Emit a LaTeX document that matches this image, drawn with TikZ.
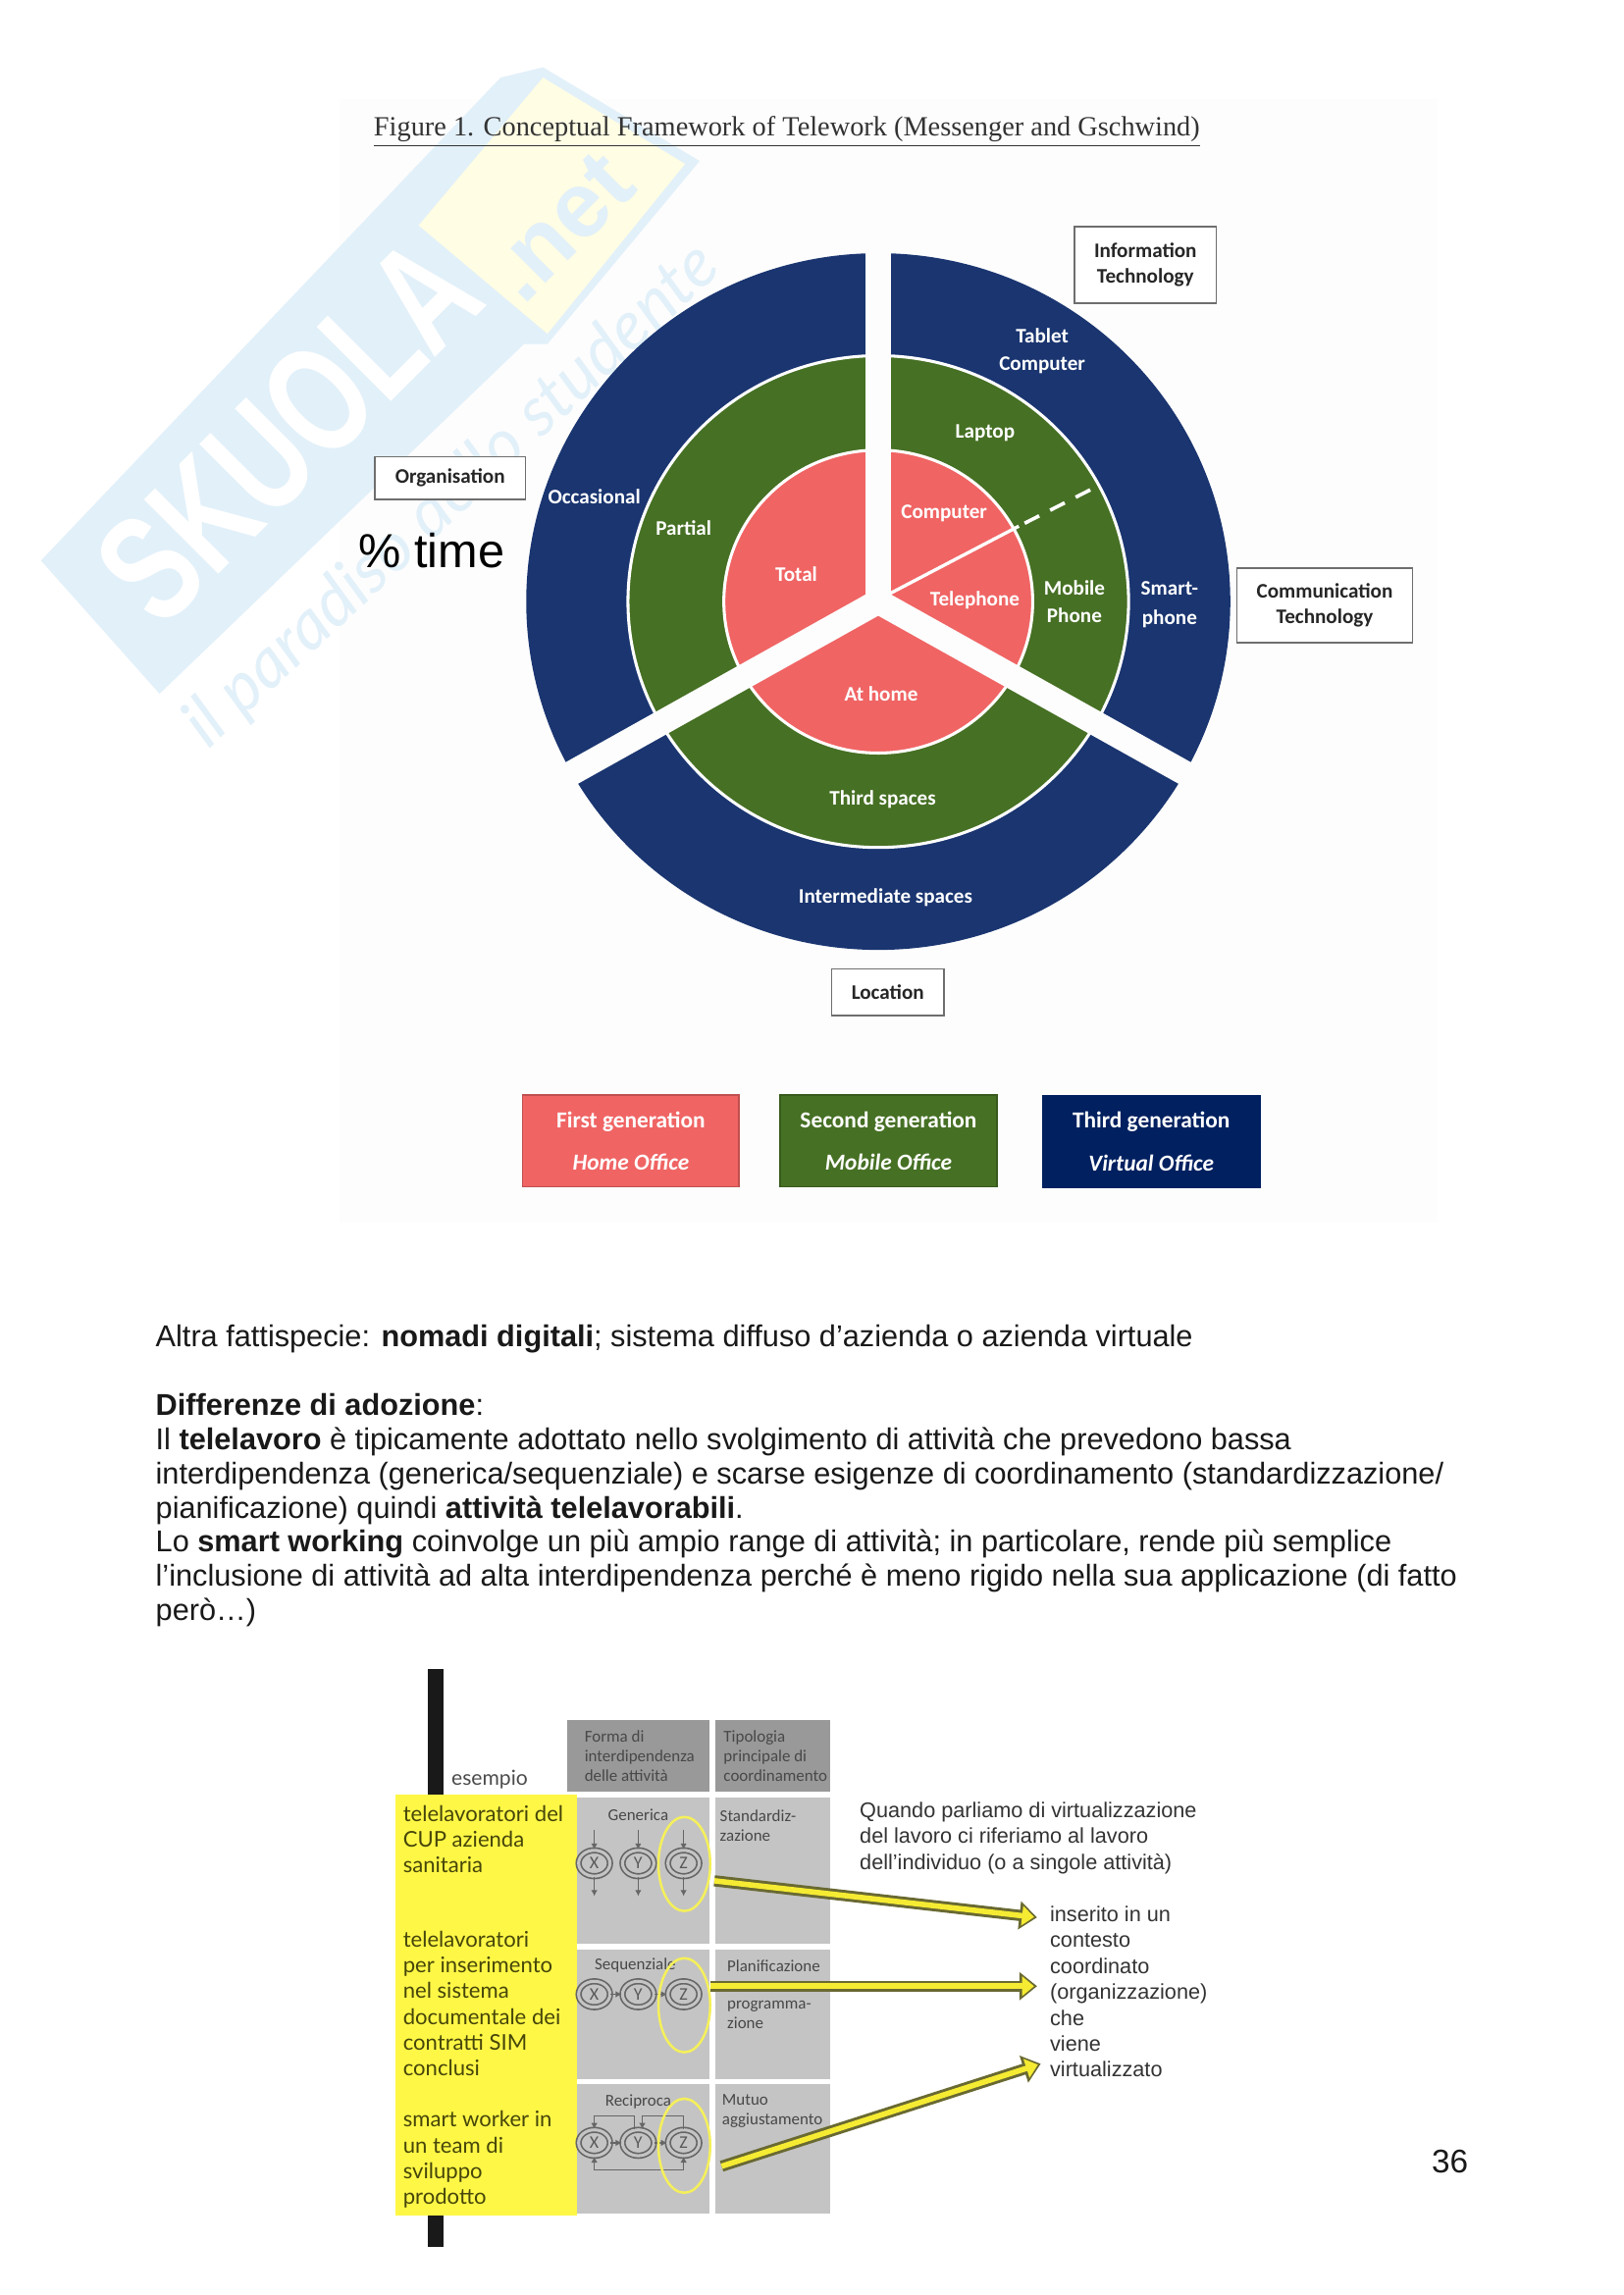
\documentclass[tikz,border=0pt]{standalone}
\usepackage{fontspec}
\usetikzlibrary{arrows.meta,shapes.geometric,calc}
\setmainfont{Liberation Sans}
\newfontfamily\crlf{Carlito}
\newfontfamily\ltof{Lato}
\newfontfamily\tmsf{Liberation Serif}
\definecolor{pagebg}{RGB}{253,253,253}
\definecolor{navy}{RGB}{26,53,112}
\definecolor{leafg}{RGB}{70,112,36}
\definecolor{coral}{RGB}{240,100,100}
\definecolor{navyb}{RGB}{0,32,96}
\definecolor{wmblue}{RGB}{226,240,249}
\definecolor{wmyel}{RGB}{255,253,228}
\definecolor{hdrgray}{RGB}{153,153,153}
\definecolor{bodygray}{RGB}{196,196,196}
\definecolor{tabtext}{RGB}{72,72,72}
\definecolor{hiyel}{RGB}{255,247,70}
\definecolor{olivet}{RGB}{70,70,10}
\definecolor{arrowedge}{RGB}{105,105,50}
\definecolor{arrowfill}{RGB}{245,235,50}
\definecolor{ovalyel}{RGB}{245,240,90}
\definecolor{boxedge}{RGB}{110,110,110}
\tikzset{
  wheeltext/.style={text=white,font=\crlf\bfseries\fontsize{7.6}{10}\selectfont,align=center,inner sep=0pt},
  labelbox/.style={draw=boxedge,line width=0.6pt,fill=white,text=black!85,font=\crlf\bfseries\fontsize{7.6}{9.5}\selectfont,align=center,inner sep=0pt},
  legendbox/.style={line width=0.7pt,text=white,font=\crlf\bfseries\fontsize{8.4}{15.6}\selectfont,align=center,inner sep=0pt,minimum width=79.5pt,minimum height=33.6pt},
  bodytext/.style={font=\fontsize{11.05}{12.5}\selectfont,anchor=north west,align=left,inner sep=0pt,text=black!90},
  hdrcell/.style={fill=hdrgray},
  bodycell/.style={fill=bodygray},
  tabtxt/.style={font=\crlf\fontsize{6.1}{7.2}\selectfont,text=tabtext,align=left,inner sep=0pt,anchor=west},
  yeltxt/.style={font=\ltof\fontsize{7.95}{9.45}\selectfont,text=olivet,align=left,inner sep=0pt,anchor=north west},
  sidetxt/.style={font=\fontsize{7.8}{9.5}\selectfont,text=black!80,align=left,inner sep=0pt,anchor=north west},
  activity/.style={ellipse,draw=black!60,line width=0.6pt,double=bodygray,double distance=1.1pt,inner sep=0pt,minimum width=11.5pt,minimum height=9.5pt,text=black!65,font=\crlf\fontsize{6.5}{7}\selectfont},
  flow/.style={draw=black!60,line width=0.5pt,-{Latex[length=2.2pt,width=2.4pt]}},
  oval/.style={ellipse,draw=ovalyel,line width=0.9pt,inner sep=0pt,minimum width=19pt,minimum height=34.5pt},
}
\newcommand{\fatarrow}[2]{%
  \draw[arrowedge,line width=4.1pt,-{Triangle[length=6.5pt,width=10pt]}] (#1) -- (#2);
  \draw[arrowfill,line width=2pt,shorten >=1.1pt,-{Triangle[length=4.4pt,width=7pt]}] (#1) -- (#2);
}
\begin{document}
\begin{tikzpicture}[x=0.5368pt,y=-0.5368pt]
\useasboundingbox (0,0) rectangle (1109,1568);
\fill[white] (0,0) rectangle (1109,1568);
% figure background
\fill[pagebg] (232,68) rectangle (982,835);
% watermark
\fill[wmblue] (28,383) -- (342,53) -- (371,46) -- (478,110) -- (374,235) -- (358,235) -- (109,474) -- cycle;
\fill[wmyel] (286,154) -- (371,53) -- (468,112) -- (374,228) -- cycle;
\node[rotate=45,text=white,font=\bfseries\fontsize{56}{56}\selectfont,inner sep=0pt] (wmname) at (197,294) {\scalebox{0.72}[1]{SKUOLA}};
\node[rotate=45,text=wmblue,font=\bfseries\fontsize{34}{34}\selectfont,inner sep=0pt] (wmnet) at (383,155) {.net};
\node[rotate=43,text=wmblue,font=\ltof\itshape\fontsize{25}{25}\selectfont,inner sep=0pt] (wmtag) at (309,339) {il paradiso dello studente};
% title
\node[font=\tmsf\fontsize{10.2}{12}\selectfont,text=black!80,inner sep=0pt,anchor=base west] (title) at (255,93) {\underline{Figure 1. Conceptual Framework of Telework (Messenger and Gschwind)}};
% wheel
\coordinate (hub) at (600,411);
\fill[navy] (hub) ellipse [x radius=240.5,y radius=238];
\draw[white,line width=1.1pt,fill=leafg] (hub) ellipse [x radius=171,y radius=168];
\draw[white,line width=1.1pt,fill=coral] (hub) ellipse [x radius=105.5,y radius=103.5];
\coordinate (gapA) at (600,140);
\coordinate (gapB) at (827,538);
\coordinate (gapC) at (373,538);
\foreach \g in {gapA,gapB,gapC}{\draw[pagebg,line width=9.1pt] (hub) -- (\g);}
\fill[pagebg] (591.5,411) -- (600,406) -- (608.5,411) -- (600,421) -- cycle;
% divider
\coordinate (divA) at (608,405.5);
\coordinate (divB) at (696,359.5);
\coordinate (divC) at (751,331.5);
\draw[white,line width=1.2pt] (divA) -- (divB);
\draw[white,line width=1.3pt,dash pattern=on 6pt off 4.5pt] (divB) ++(4,-2) -- (divC);
% wheel labels
\node[wheeltext] (occ) at (406,339) {Occasional};
\node[wheeltext] (par) at (467,361) {Partial};
\node[wheeltext] (tot) at (544,392) {Total};
\node[wheeltext] (com) at (645,351) {Computer};
\node[wheeltext] (tel) at (666,410) {Telephone};
\node[wheeltext] (mob) at (734,411) {Mobile\\Phone};
\node[wheeltext] (sma) at (799,413) {Smart-\\[0.7pt]phone};
\node[wheeltext] (lap) at (673,296) {Laptop};
\node[wheeltext] (tab) at (712,240) {Tablet\\Computer};
\node[wheeltext] (hom) at (602,474) {At home};
\node[wheeltext] (thi) at (603,546) {Third spaces};
\node[wheeltext] (int) at (605,613) {Intermediate spaces};
% label boxes
\node[labelbox,minimum width=52pt,minimum height=27.9pt] (infobox) at (782.5,181) {Information\\Technology};
\node[labelbox,minimum width=64.4pt,minimum height=27.4pt] (commbox) at (905,413.5) {Communication\\Technology};
\node[labelbox,minimum width=55.3pt,minimum height=15.6pt] (orgbox) at (307.5,326.5) {Organisation};
\node[labelbox,minimum width=41.3pt,minimum height=17.2pt] (locbox) at (606.5,678) {Location};
\node[font=\fontsize{17.5}{20}\selectfont,inner sep=0pt] (pct) at (295,376) {\% time};
% legend
\node[legendbox,draw=coral!80!black,fill=coral] (leg1) at (431,779.5) {First generation\\\itshape Home Office};
\node[legendbox,draw=leafg!80!black,fill=leafg] (leg2) at (607,779.5) {Second generation\\\itshape Mobile Office};
\node[legendbox,draw=navyb,fill=navyb] (leg3) at (786.5,780) {Third generation\\\itshape Virtual Office};
% body text
\node[bodytext] (p1) at (106,905) {Altra fattispecie: \textbf{nomadi digitali}; sistema diffuso d’azienda o azienda virtuale};
\node[bodytext] (p2) at (106,952) {\textbf{Differenze di adozione}:\\
Il \textbf{telelavoro} è tipicamente adottato nello svolgimento di attività che prevedono bassa\\
interdipendenza (generica/sequenziale) e scarse esigenze di coordinamento (standardizzazione/\\
pianificazione) quindi \textbf{attività telelavorabili}.\\
Lo \textbf{smart working} coinvolge un più ampio range di attività; in particolare, rende più semplice\\
l’inclusione di attività ad alta interdipendenza perché è meno rigido nella sua applicazione (di fatto\\
però…)};
\node[font=\fontsize{12}{14}\selectfont,inner sep=0pt,text=black!90] (pageno) at (990.5,1477) {36};
% black bar
\fill[black!90] (292,1140) rectangle (303,1535);
\node[font=\ltof\fontsize{7.6}{9}\selectfont,text=black!70,inner sep=0pt] (esem) at (334.5,1216) {esempio};
% table
\fill[hdrcell] (387.5,1175) rectangle (484.5,1224);
\fill[hdrcell] (488.5,1175) rectangle (567,1224);
\fill[bodycell] (388,1228) rectangle (484.5,1328);
\fill[bodycell] (488.5,1228) rectangle (567,1328);
\fill[bodycell] (388,1332) rectangle (484.5,1420.5);
\fill[bodycell] (488.5,1332) rectangle (567,1420.5);
\fill[bodycell] (388,1424) rectangle (484.5,1512.5);
\fill[bodycell] (488.5,1424) rectangle (567,1512.5);
\node[tabtxt] (h1) at (399,1199.5) {Forma di\\interdipendenza\\delle attività};
\node[tabtxt] (h2) at (494,1199.5) {Tipologia\\principale di\\coordinamento};
\node[tabtxt,anchor=center] (r1a) at (436,1240) {Generica};
\node[tabtxt,anchor=center] (r2a) at (434,1343) {Sequenziale};
\node[tabtxt,anchor=center] (r3a) at (436,1436) {Reciproca};
\node[tabtxt] (r1b) at (491.5,1247) {Standardiz-\\zazione};
\node[tabtxt] (r2b) at (496.5,1343) {Planificazione};
\node[tabtxt] (r2c) at (496.5,1376.5) {programma-\\zione};
\node[tabtxt] (r3b) at (493,1442.5) {Mutuo\\aggiustamento};
% yellow column
\fill[hiyel] (270,1226) rectangle (394,1514);
\node[yeltxt] (y1) at (275,1233) {telelavoratori del\\CUP azienda\\sanitaria};
\node[yeltxt] (y2) at (275,1319) {telelavoratori\\per inserimento\\nel sistema\\documentale dei\\contratti SIM\\conclusi};
\node[yeltxt] (y3) at (275,1442) {smart worker in\\un team di\\sviluppo\\prodotto};
% activities row 1
\node[activity] (x1) at (406,1273) {X};
\node[activity] (y1a) at (436,1273) {Y};
\node[activity] (z1) at (467,1273) {Z};
\foreach \n in {x1,y1a,z1}{
  \draw[flow] ([yshift=7pt]\n.north) -- (\n.north);
  \draw[flow] (\n.south) -- ([yshift=-7pt]\n.south);
}
% activities row 2
\node[activity] (x2) at (406,1362.5) {X};
\node[activity] (y2a) at (436,1362.5) {Y};
\node[activity] (z2) at (467,1362.5) {Z};
\draw[flow] (x2) -- (y2a);
\draw[flow] (y2a) -- (z2);
% activities row 3
\node[activity] (x3) at (406,1464) {X};
\node[activity] (y3a) at (436,1464) {Y};
\node[activity] (z3) at (467,1464) {Z};
\draw[flow] (x3) -- (y3a);
\draw[flow] (y3a) -- (z3);
\draw[flow] ([xshift=-1.5pt]y3a.north) -- ++(0,-9) -| (x3.north);
\draw[flow] (z3.north) -- ++(0,-9) -| ([xshift=1.5pt]y3a.north);
\draw[flow,{Latex[length=2.2pt,width=2.4pt]}-{Latex[length=2.2pt,width=2.4pt]}] (x3.south) -- ++(0,9) -| (z3.south);
% highlight ovals
\node[oval] (o1) at (467.5,1273.5) {};
\node[oval] (o2) at (467.5,1370) {};
\node[oval] (o3) at (467.5,1466) {};
% side text
\node[sidetxt] (s1) at (587,1231) {Quando parliamo di virtualizzazione\\del lavoro ci riferiamo al lavoro\\dell’individuo (o a singole attività)};
\node[sidetxt] (s2) at (717,1302) {inserito in un\\contesto\\coordinato\\(organizzazione)\\che\\viene\\virtualizzato};
% fat arrows
\coordinate (a1s) at (488,1285);
\coordinate (a1e) at (708.5,1310);
\coordinate (a2s) at (485.5,1357);
\coordinate (a2e) at (708.5,1357);
\coordinate (a3s) at (493,1480);
\coordinate (a3e) at (711,1410);
\fatarrow{a1s}{a1e}
\fatarrow{a2s}{a2e}
\fatarrow{a3s}{a3e}
\end{tikzpicture}
\end{document}
